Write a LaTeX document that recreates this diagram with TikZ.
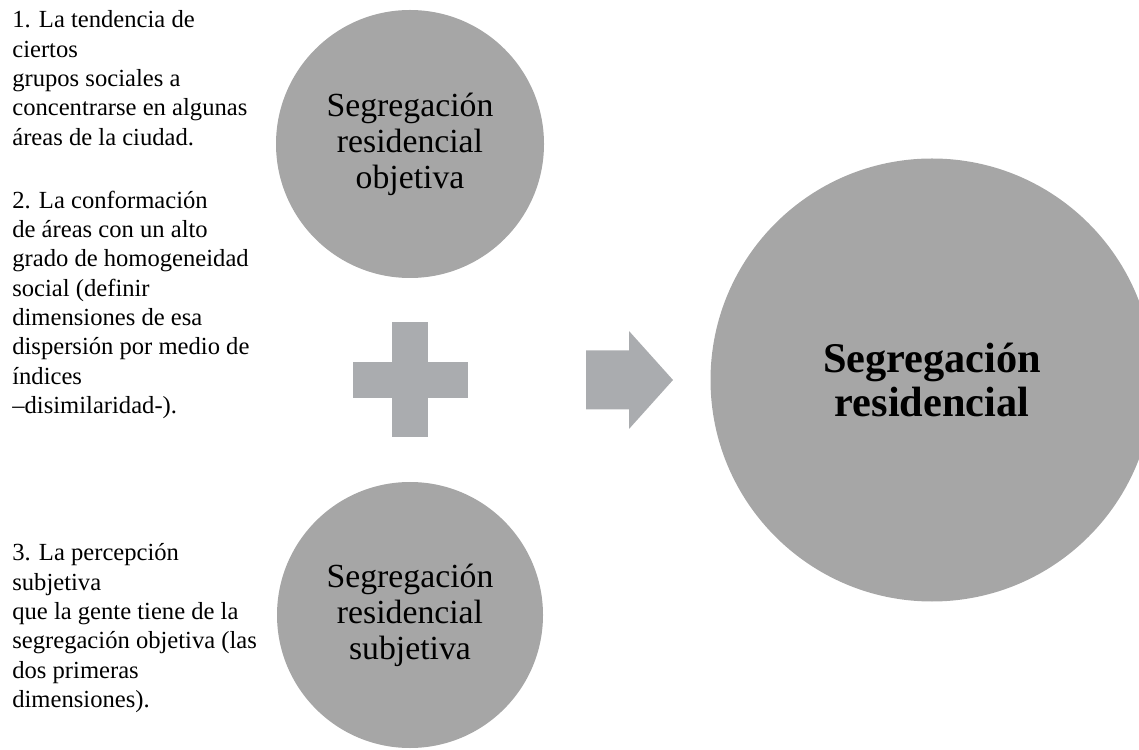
\documentclass[tikz,border=0pt]{standalone}
\usepackage{fontspec}
\setmainfont{Liberation Serif}
\definecolor{circgray}{RGB}{166,166,166}
\definecolor{symgray}{RGB}{170,172,175}

\begin{document}
\begin{tikzpicture}[
    circ/.style={circle, fill=circgray, inner sep=0, align=center, font=\fontsize{19.2pt}{20.5pt}\selectfont},
    bigcirc/.style={circle, fill=circgray, inner sep=0, align=center, font=\fontsize{24.1pt}{25pt}\selectfont\bfseries},
    note/.style={anchor=north west, align=left, inner sep=0, font=\fontsize{14pt}{16.7pt}\selectfont},
    symbol/.style={fill=symgray}
]

\useasboundingbox (0,0) rectangle (22.78,14.98);

\node[note] (note1) at (0.24, 14.77) {1. La tendencia de\\ciertos\\grupos sociales a\\concentrarse en algunas\\áreas de la ciudad.};
\node[note] (note2) at (0.24, 11.17) {2. La conformación\\de áreas con un alto\\grado de homogeneidad\\social (definir\\dimensiones de esa\\dispersión por medio de\\índices\\--disimilaridad-).};
\node[note] (note3) at (0.24, 4.11) {3. La percepción\\subjetiva\\que la gente tiene de la\\segregación objetiva (las\\dos primeras\\dimensiones).};

\node[circ, minimum size=5.36cm] (objetiva) at (8.2, 12.1) {Segregación\\residencial\\objetiva};
\node[circ, minimum size=5.32cm] (subjetiva) at (8.2, 2.68) {Segregación\\residencial\\subjetiva};
\node[bigcirc, minimum size=8.86cm] (residencial) at (18.64, 7.38) {Segregación\\residencial};

% plus sign
\coordinate (plus) at (8.2, 7.38);
\fill[symbol] (plus) ++(-1.15,-0.36) rectangle ++(2.3,0.72);
\fill[symbol] (plus) ++(-0.36,-1.15) rectangle ++(0.72,2.3);

% arrow
\coordinate (flecha) at (11.72, 7.38);
\fill[symbol] (flecha) ++(0,0.59) -- ++(0.86,0) -- ++(0,0.39) -- ++(0.88,-0.98)
    -- ++(-0.88,-0.98) -- ++(0,0.39) -- ++(-0.86,0) -- cycle;

\end{tikzpicture}
\end{document}
